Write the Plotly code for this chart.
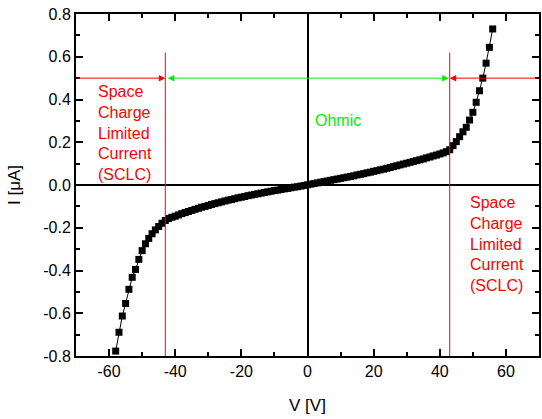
import plotly.graph_objects as go

# Voltage (V) and current (uA)
voltage = list(range(-58, 57))
current_neg = [  # V = -58 ... -1
    -0.777, -0.689, -0.613, -0.554, -0.488, -0.432, -0.395, -0.348, -0.307, -0.275,
    -0.250, -0.228, -0.210, -0.194, -0.179, -0.166, -0.157, -0.151, -0.146, -0.140,
    -0.134, -0.129, -0.124, -0.119, -0.114, -0.109, -0.104, -0.100, -0.096, -0.091,
    -0.087, -0.083, -0.079, -0.075, -0.071, -0.068, -0.064, -0.060, -0.057, -0.054,
    -0.050, -0.047, -0.044, -0.041, -0.038, -0.035, -0.032, -0.029, -0.026, -0.024,
    -0.021, -0.018, -0.016, -0.013, -0.010, -0.008, -0.005, -0.002,
]
current_pos = [  # V = 0 ... 56
    0.001, 0.004, 0.007, 0.010, 0.013, 0.016, 0.019, 0.022, 0.025, 0.028,
    0.031, 0.034, 0.037, 0.040, 0.043, 0.047, 0.050, 0.053, 0.057, 0.060,
    0.064, 0.067, 0.071, 0.074, 0.078, 0.082, 0.086, 0.090, 0.094, 0.098,
    0.102, 0.106, 0.110, 0.114, 0.118, 0.122, 0.127, 0.131, 0.136, 0.140,
    0.145, 0.150, 0.156, 0.165, 0.184, 0.203, 0.226, 0.249, 0.270, 0.304,
    0.340, 0.387, 0.441, 0.500, 0.570, 0.644, 0.730,
]
current = current_neg + current_pos

x_ticks = [-60, -40, -20, 0, 20, 40, 60]
y_ticks = [-0.8, -0.6, -0.4, -0.2, 0.0, 0.2, 0.4, 0.6, 0.8]

sclc_boundary = [-43, 43]
arrow_level = 0.5
boundary_top = 0.62

FONT = "Liberation Sans, Arial, sans-serif"
RED = "#ff0000"
GREEN = "#00ee00"

fig = go.Figure()
fig.add_trace(go.Scatter(
    x=voltage, y=current, mode="lines+markers",
    line=dict(color="black", width=1),
    marker=dict(symbol="square", size=7, color="black"),
    showlegend=False,
))

for xb in sclc_boundary:
    fig.add_shape(type="line", x0=xb, x1=xb, y0=-0.8, y1=boundary_top,
                  xref="x", yref="y", line=dict(color=RED, width=1))

def arrow(x_head, x_tail, color, both=False):
    fig.add_annotation(
        x=x_head, y=arrow_level, ax=x_tail, ay=arrow_level,
        xref="x", yref="y", axref="x", ayref="y",
        text="", showarrow=True, arrowhead=2, arrowsize=1.3, arrowwidth=1,
        arrowcolor=color, arrowside="end+start" if both else "end",
        standoff=0, startstandoff=0,
    )

arrow(sclc_boundary[0], -70, RED)
arrow(sclc_boundary[1] - 0.3, sclc_boundary[0] + 0.3, GREEN, both=True)
arrow(sclc_boundary[1], 70, RED)

fig.add_annotation(x=-64, y=0.245, xref="x", yref="y", xanchor="left", yanchor="middle",
                   text="Space<br>Charge<br>Limited<br>Current<br>(SCLC)", showarrow=False,
                   align="left", font=dict(family=FONT, size=16, color=RED))
fig.add_annotation(x=48.6, y=-0.278, xref="x", yref="y", xanchor="left", yanchor="middle",
                   text="Space<br>Charge<br>Limited<br>Current<br>(SCLC)", showarrow=False,
                   align="left", font=dict(family=FONT, size=16, color=RED))
fig.add_annotation(x=1.8, y=0.3, xref="x", yref="y", xanchor="left", yanchor="middle",
                   text="Ohmic", showarrow=False,
                   font=dict(family=FONT, size=16, color=GREEN))

axis_common = dict(
    showline=True, linecolor="black", linewidth=2, mirror="allticks",
    ticks="inside", ticklen=7, tickwidth=1.5, tickcolor="black",
    showgrid=False, zeroline=True, zerolinecolor="black", zerolinewidth=2,
    tickfont=dict(family=FONT, size=16, color="black"),
    title_font=dict(family=FONT, size=17, color="black"),
)

fig.update_xaxes(range=[-70, 70], tickvals=x_ticks, ticktext=[str(v) for v in x_ticks],
                 minor=dict(ticks="inside", ticklen=4, tickwidth=1.5, tickcolor="black", dtick=10, tick0=0),
                 title_text="V [V]", title_standoff=20, **axis_common)
fig.update_yaxes(range=[-0.8, 0.8], tickvals=y_ticks, ticktext=[f"{v:.1f}" for v in y_ticks],
                 minor=dict(ticks="inside", ticklen=4, tickwidth=1.5, tickcolor="black", dtick=0.1, tick0=0),
                 title_text="I [\u03bcA]", title_standoff=18, **axis_common)

fig.update_layout(
    width=542, height=419,
    margin=dict(l=76, r=1, t=14, b=63),
    paper_bgcolor="white", plot_bgcolor="white",
    font=dict(family=FONT, size=16, color="black"),
)

fig.write_html("out.html")
